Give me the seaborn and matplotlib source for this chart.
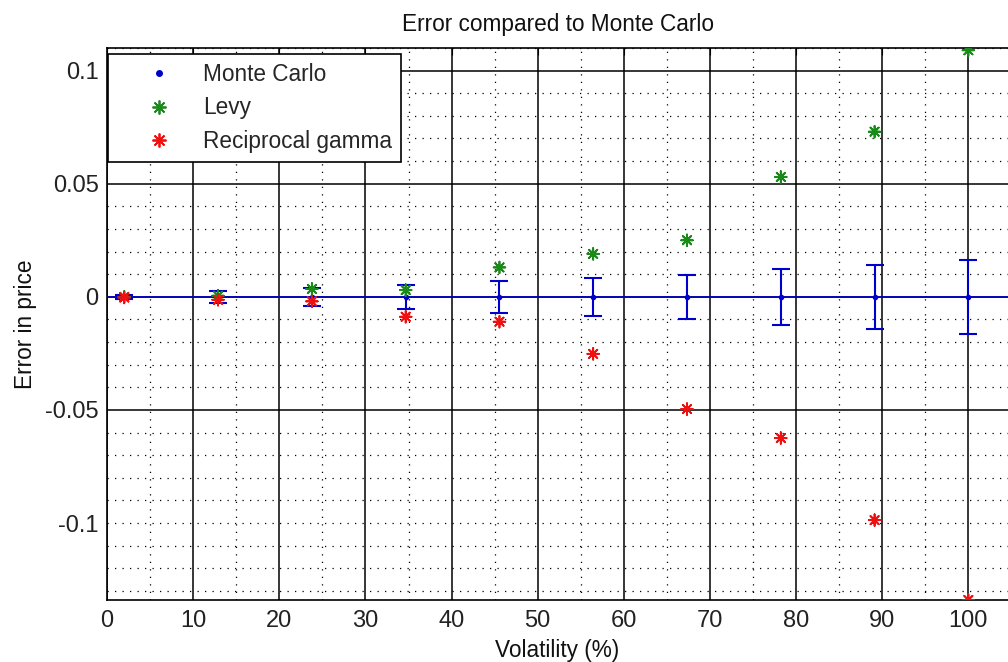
import numpy as np
import pandas as pd
import seaborn as sns
import matplotlib
matplotlib.use("Agg")
import matplotlib.pyplot as plt
from matplotlib.ticker import MultipleLocator, FixedLocator
from matplotlib.lines import Line2D

volatility = [2.0, 12.89, 23.78, 34.67, 45.56, 56.44, 67.33, 78.22, 89.11, 100.0]
mc_error = [0, 0, 0, 0, 0, 0, 0, 0, 0, 0]
mc_halfwidth = [0.001, 0.0026, 0.004, 0.0054, 0.007, 0.0085, 0.0098, 0.0125, 0.014, 0.0165]
levy = [0.0, 0.0005, 0.0035, 0.003, 0.013, 0.019, 0.025, 0.053, 0.073, 0.109]
recip_gamma = [-0.0003, -0.0013, -0.002, -0.0088, -0.011, -0.0252, -0.0496, -0.0624, -0.0987, -0.134]
x_ticks = [0, 10, 20, 30, 40, 50, 60, 70, 80, 90, 100]
y_ticks = [-0.1, -0.05, 0, 0.05, 0.1]
y_tick_labels = ["-0.1", "-0.05", "0", "0.05", "0.1"]

sns.set_style("white")
plt.rcParams['font.family'] = ['Liberation Sans', 'DejaVu Sans']
TICK_FONT = ['Liberation Sans Narrow', 'Liberation Sans', 'DejaVu Sans']

df = pd.DataFrame({
    "vol": volatility * 2,
    "err": levy + recip_gamma,
    "method": ["Levy"] * len(levy) + ["Reciprocal gamma"] * len(recip_gamma),
})

fig = plt.figure(figsize=(10.08, 6.62), dpi=100)
ax = fig.add_axes([0.1062, 0.0937, 0.8938, 0.8338])

# zero line and Monte Carlo error bars
ax.axhline(0, color="#0000cc", lw=1.2, zorder=3)
ax.errorbar(volatility, mc_error, yerr=mc_halfwidth, fmt=".", color="#0000cc",
            ms=6, capsize=6.5, elinewidth=1.5, capthick=1.5, zorder=4)

ast = (8, 2, 0)
sns.scatterplot(data=df, x="vol", y="err", hue="method",
                palette={"Levy": "#1a8a1a", "Reciprocal gamma": "#ee1111"},
                marker=ast, s=70, linewidth=1.3, ax=ax, legend=False, zorder=5)

ax.set_xlim(0, 104.6)
ax.set_ylim(-0.134, 0.110)
ax.xaxis.set_major_locator(FixedLocator(x_ticks))
ax.yaxis.set_major_locator(FixedLocator(y_ticks))
ax.set_yticklabels(y_tick_labels)
ax.xaxis.set_minor_locator(MultipleLocator(5))
ax.yaxis.set_minor_locator(MultipleLocator(0.01))

ax.grid(which="major", color="black", lw=1.1, ls="-", zorder=1)
ax.grid(which="minor", color="black", lw=0.9, ls=(0, (1, 5)), zorder=1)
for gl, v in zip(ax.yaxis.get_gridlines(), y_ticks):
    if abs(v + 0.1) < 1e-9:
        gl.set_linestyle((0, (1, 5)))
        gl.set_linewidth(0.9)

ax.tick_params(which="both", direction="in", top=True, right=False,
               labelsize=17, colors="black", length=5)
ax.tick_params(axis="x", which="major", pad=7)
ax.tick_params(axis="y", which="major", pad=6)
ax.tick_params(which="minor", length=0)
for lab in ax.get_xticklabels() + ax.get_yticklabels():
    lab.set_color("#222222")
    lab.set_family(TICK_FONT)

for s in ["left", "bottom", "top"]:
    ax.spines[s].set_color("black")
    ax.spines[s].set_linewidth(1.2)
ax.spines["right"].set_visible(False)

ax.set_title("Error compared to Monte Carlo", fontsize=16.3, pad=12, color="#111111")
ax.set_xlabel("Volatility (%)", fontsize=16.3, labelpad=5, color="#111111")
ax.set_ylabel("Error in price", fontsize=16.3, labelpad=6, color="#111111")

handles = [
    Line2D([], [], ls="none", marker=".", color="#0000cc", ms=8),
    Line2D([], [], ls="none", marker=ast, color="#1a8a1a", ms=10, mew=1.3),
    Line2D([], [], ls="none", marker=ast, color="#ee1111", ms=10, mew=1.3),
]
leg = ax.legend(handles, ["Monte Carlo", "Levy", "Reciprocal gamma"], loc="upper left",
                bbox_to_anchor=(0.001, 0.99), fontsize=16.3, frameon=True, fancybox=False,
                framealpha=1, edgecolor="black", borderpad=0.4, handletextpad=0.1,
                labelspacing=0.48, handlelength=3.7, borderaxespad=0)
leg.get_frame().set_linewidth(1.2)
leg.set_zorder(10)

fig.savefig("out.png", dpi=100)
